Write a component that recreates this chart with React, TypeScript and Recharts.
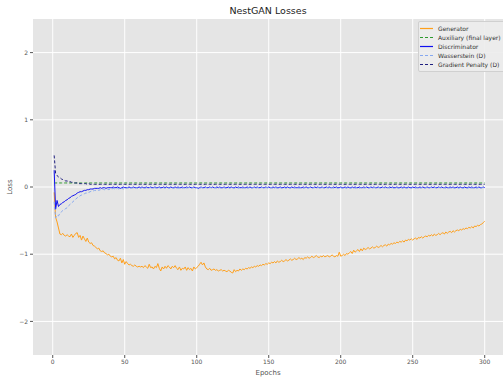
import { LineChart, Line, XAxis, YAxis, CartesianGrid } from 'recharts';

// NestGAN training losses, one value per epoch (1..300)
const generator = [
  -0.08, -0.45, -0.52, -0.61, -0.70, -0.71, -0.69, -0.72, -0.73, -0.71,
  -0.73, -0.74, -0.70, -0.75, -0.72, -0.69, -0.68, -0.75, -0.72, -0.79,
  -0.73, -0.77, -0.81, -0.76, -0.82, -0.84, -0.83, -0.87, -0.88, -0.90,
  -0.92, -0.91, -0.95, -0.96, -0.95, -0.98, -0.99, -1.01, -1.00, -1.03,
  -1.04, -1.03, -1.07, -1.05, -1.09, -1.10, -1.06, -1.13, -1.08, -1.15,
  -1.11, -1.14, -1.16, -1.15, -1.17, -1.18, -1.16, -1.18, -1.19, -1.18,
  -1.19, -1.18, -1.20, -1.17, -1.19, -1.21, -1.15, -1.20, -1.19, -1.22,
  -1.18, -1.20, -1.14, -1.21, -1.25, -1.19, -1.22, -1.18, -1.21, -1.17,
  -1.19, -1.22, -1.18, -1.20, -1.17, -1.21, -1.23, -1.19, -1.24, -1.21,
  -1.22, -1.19, -1.24, -1.20, -1.23, -1.21, -1.25, -1.19, -1.22, -1.20,
  -1.18, -1.15, -1.12, -1.16, -1.13, -1.19, -1.22, -1.23, -1.21, -1.24,
  -1.23, -1.22, -1.24, -1.23, -1.25, -1.24, -1.23, -1.25, -1.24, -1.25,
  -1.26, -1.24, -1.25, -1.27, -1.28, -1.23, -1.26, -1.24, -1.25, -1.22,
  -1.24, -1.22, -1.23, -1.21, -1.22, -1.20, -1.21, -1.19, -1.20, -1.18,
  -1.19, -1.17, -1.18, -1.16, -1.17, -1.15, -1.16, -1.14, -1.15, -1.13,
  -1.14, -1.12, -1.13, -1.11, -1.13, -1.10, -1.12, -1.11, -1.09, -1.11,
  -1.10, -1.08, -1.10, -1.09, -1.07, -1.09, -1.08, -1.06, -1.08, -1.07,
  -1.05, -1.07, -1.06, -1.08, -1.05, -1.06, -1.04, -1.06, -1.05, -1.03,
  -1.05, -1.04, -1.02, -1.04, -1.05, -1.03, -1.04, -1.02, -1.04, -1.03,
  -1.02, -1.04, -1.03, -1.01, -1.03, -1.04, -1.02, -1.03, -0.97, -1.03,
  -1.02, -1.00, -1.02, -0.99, -1.00, -0.98, -0.96, -0.99, -0.94, -0.97,
  -0.95, -0.93, -0.96, -0.92, -0.95, -0.91, -0.93, -0.92, -0.90, -0.92,
  -0.91, -0.89, -0.91, -0.90, -0.88, -0.90, -0.89, -0.87, -0.89, -0.87,
  -0.86, -0.88, -0.85, -0.86, -0.84, -0.85, -0.83, -0.84, -0.82, -0.83,
  -0.81, -0.82, -0.80, -0.82, -0.79, -0.80, -0.78, -0.79, -0.77, -0.79,
  -0.77, -0.76, -0.78, -0.75, -0.76, -0.74, -0.76, -0.74, -0.73, -0.74,
  -0.72, -0.73, -0.71, -0.73, -0.70, -0.72, -0.71, -0.69, -0.71, -0.69,
  -0.68, -0.70, -0.67, -0.69, -0.67, -0.66, -0.68, -0.65, -0.67, -0.65,
  -0.64, -0.65, -0.63, -0.64, -0.62, -0.63, -0.61, -0.62, -0.60, -0.61,
  -0.59, -0.61, -0.58, -0.59, -0.57, -0.58, -0.56, -0.55, -0.53, -0.51,
];

const auxiliary = [
  0.06, 0.06, 0.06, 0.06, 0.06, 0.06, 0.06, 0.06, 0.06, 0.06,
  0.06, 0.06, 0.06, 0.06, 0.06, 0.06, 0.06, 0.06, 0.06, 0.06,
  0.06, 0.06, 0.06, 0.06, 0.06, 0.06, 0.06, 0.06, 0.06, 0.06,
  0.06, 0.06, 0.06, 0.06, 0.06, 0.06, 0.06, 0.06, 0.06, 0.06,
  0.06, 0.06, 0.06, 0.06, 0.06, 0.06, 0.06, 0.06, 0.06, 0.06,
  0.06, 0.06, 0.06, 0.06, 0.06, 0.06, 0.06, 0.06, 0.06, 0.06,
  0.06, 0.06, 0.06, 0.06, 0.06, 0.06, 0.06, 0.06, 0.06, 0.06,
  0.06, 0.06, 0.06, 0.06, 0.06, 0.06, 0.06, 0.06, 0.06, 0.06,
  0.06, 0.06, 0.06, 0.06, 0.06, 0.06, 0.06, 0.06, 0.06, 0.06,
  0.06, 0.06, 0.06, 0.06, 0.06, 0.06, 0.06, 0.06, 0.06, 0.06,
  0.06, 0.06, 0.06, 0.06, 0.06, 0.06, 0.06, 0.06, 0.06, 0.06,
  0.06, 0.06, 0.06, 0.06, 0.06, 0.06, 0.06, 0.06, 0.06, 0.06,
  0.06, 0.06, 0.06, 0.06, 0.06, 0.06, 0.06, 0.06, 0.06, 0.06,
  0.06, 0.06, 0.06, 0.06, 0.06, 0.06, 0.06, 0.06, 0.06, 0.06,
  0.06, 0.06, 0.06, 0.06, 0.06, 0.06, 0.06, 0.06, 0.06, 0.06,
  0.06, 0.06, 0.06, 0.06, 0.06, 0.06, 0.06, 0.06, 0.06, 0.06,
  0.06, 0.06, 0.06, 0.06, 0.06, 0.06, 0.06, 0.06, 0.06, 0.06,
  0.06, 0.06, 0.06, 0.06, 0.06, 0.06, 0.06, 0.06, 0.06, 0.06,
  0.06, 0.06, 0.06, 0.06, 0.06, 0.06, 0.06, 0.06, 0.06, 0.06,
  0.06, 0.06, 0.06, 0.06, 0.06, 0.06, 0.06, 0.06, 0.06, 0.06,
  0.06, 0.06, 0.06, 0.06, 0.06, 0.06, 0.06, 0.06, 0.06, 0.06,
  0.06, 0.06, 0.06, 0.06, 0.06, 0.06, 0.06, 0.06, 0.06, 0.06,
  0.06, 0.06, 0.06, 0.06, 0.06, 0.06, 0.06, 0.06, 0.06, 0.06,
  0.06, 0.06, 0.06, 0.06, 0.06, 0.06, 0.06, 0.06, 0.06, 0.06,
  0.06, 0.06, 0.06, 0.06, 0.06, 0.06, 0.06, 0.06, 0.06, 0.06,
  0.06, 0.06, 0.06, 0.06, 0.06, 0.06, 0.06, 0.06, 0.06, 0.06,
  0.06, 0.06, 0.06, 0.06, 0.06, 0.06, 0.06, 0.06, 0.06, 0.06,
  0.06, 0.06, 0.06, 0.06, 0.06, 0.06, 0.06, 0.06, 0.06, 0.06,
  0.06, 0.06, 0.06, 0.06, 0.06, 0.06, 0.06, 0.06, 0.06, 0.06,
  0.06, 0.06, 0.06, 0.06, 0.06, 0.06, 0.06, 0.06, 0.06, 0.06,
];

const discriminator = [
  0.25, -0.33, -0.20, -0.29, -0.26, -0.25, -0.23, -0.22, -0.20, -0.19,
  -0.17, -0.16, -0.14, -0.13, -0.12, -0.11, -0.09, -0.08, -0.07, -0.07,
  -0.06, -0.05, -0.05, -0.04, -0.04, -0.03, -0.03, -0.03, -0.02, -0.02,
  -0.02, -0.02, -0.01, -0.02, -0.01, -0.01, -0.02, -0.01, -0.01, -0.01,
  -0.01, 0.00, -0.01, -0.01, 0.00, -0.01, -0.02, -0.01, 0.00, -0.01,
  -0.01, -0.01, 0.00, -0.01, -0.01, 0.00, -0.01, -0.01, -0.01, 0.00,
  -0.01, 0.00, -0.01, -0.01, 0.00, -0.01, -0.01, 0.00, -0.01, -0.01,
  0.00, -0.01, -0.01, 0.00, -0.01, -0.01, 0.00, -0.01, 0.00, -0.01,
  -0.01, 0.00, -0.01, -0.01, 0.00, -0.01, 0.00, -0.01, -0.01, 0.00,
  -0.01, -0.01, 0.00, -0.01, 0.00, -0.01, -0.01, 0.00, -0.01, -0.01,
  -0.02, -0.01, 0.00, -0.01, -0.01, 0.00, -0.01, -0.01, 0.00, -0.01,
  0.00, -0.01, -0.01, 0.00, -0.01, 0.00, -0.01, -0.01, 0.00, -0.01,
  -0.01, 0.00, -0.01, 0.00, -0.01, -0.01, 0.00, -0.01, 0.00, -0.01,
  -0.01, 0.00, -0.01, -0.01, 0.00, -0.01, 0.00, -0.01, -0.01, 0.00,
  -0.01, 0.00, -0.01, -0.01, 0.00, -0.01, -0.01, 0.00, -0.01, 0.00,
  -0.01, -0.01, 0.00, -0.01, 0.00, -0.01, -0.01, 0.00, -0.01, -0.01,
  0.00, -0.01, 0.00, -0.01, -0.01, 0.00, -0.01, 0.00, -0.01, -0.01,
  0.00, -0.01, -0.01, 0.00, -0.01, 0.00, -0.01, -0.01, 0.00, -0.01,
  -0.01, 0.00, -0.01, 0.00, -0.01, -0.01, 0.00, -0.01, -0.01, 0.00,
  -0.01, 0.00, -0.01, -0.01, 0.00, -0.01, 0.00, -0.01, -0.01, 0.00,
  -0.01, -0.01, 0.00, -0.01, 0.00, -0.01, -0.01, 0.00, -0.01, 0.00,
  -0.01, -0.01, 0.00, -0.01, -0.01, 0.00, -0.01, 0.00, -0.01, -0.01,
  0.00, -0.01, 0.00, -0.01, -0.01, 0.00, -0.01, -0.01, 0.00, -0.01,
  0.00, -0.01, -0.01, 0.00, -0.01, 0.00, -0.01, -0.01, 0.00, -0.01,
  -0.01, 0.00, -0.01, 0.00, -0.01, -0.01, 0.00, -0.01, -0.01, 0.00,
  -0.01, 0.00, -0.01, -0.01, 0.00, -0.01, 0.00, -0.01, -0.01, 0.00,
  -0.01, -0.01, 0.00, -0.01, 0.00, -0.01, -0.01, 0.00, -0.01, 0.00,
  -0.01, -0.01, 0.00, -0.01, -0.01, 0.00, -0.01, 0.00, -0.01, -0.01,
  0.00, -0.01, 0.00, -0.01, -0.01, 0.00, -0.01, -0.01, 0.00, -0.01,
  0.00, -0.01, -0.01, 0.00, -0.01, 0.00, -0.01, -0.01, 0.00, -0.01,
];

const wasserstein = [
  -0.22, -0.46, -0.42, -0.43, -0.39, -0.37, -0.35, -0.34, -0.32, -0.31,
  -0.28, -0.26, -0.24, -0.22, -0.20, -0.18, -0.16, -0.15, -0.13, -0.12,
  -0.11, -0.10, -0.09, -0.09, -0.08, -0.07, -0.06, -0.06, -0.05, -0.05,
  -0.04, -0.05, -0.04, -0.04, -0.03, -0.04, -0.03, -0.03, -0.04, -0.03,
  -0.03, -0.02, -0.03, -0.03, -0.02, -0.03, -0.02, -0.02, -0.03, -0.02,
  -0.02, -0.01, -0.02, -0.02, -0.01, -0.02, -0.02, -0.01, -0.02, -0.01,
  -0.02, -0.01, -0.01, -0.02, -0.01, -0.02, -0.01, -0.01, -0.02, -0.01,
  -0.01, -0.02, -0.01, -0.01, -0.02, -0.01, -0.01, -0.02, -0.01, -0.01,
  -0.02, -0.01, -0.01, -0.02, -0.01, -0.01, -0.02, -0.01, -0.01, -0.02,
  -0.01, -0.01, -0.02, -0.01, -0.01, -0.02, -0.01, -0.01, -0.02, -0.01,
  -0.03, -0.02, -0.01, -0.01, -0.02, -0.01, -0.01, -0.02, -0.01, -0.01,
  -0.02, -0.01, -0.01, -0.02, -0.01, -0.01, -0.02, -0.01, -0.01, -0.02,
  -0.01, -0.01, -0.02, -0.01, -0.01, -0.02, -0.01, -0.01, -0.02, -0.01,
  -0.01, -0.02, -0.01, -0.01, -0.02, -0.01, -0.01, -0.02, -0.01, -0.01,
  -0.02, -0.01, -0.01, -0.02, -0.01, -0.01, -0.02, -0.01, -0.01, -0.02,
  -0.01, -0.01, -0.02, -0.01, -0.01, -0.02, -0.01, -0.01, -0.02, -0.01,
  -0.01, -0.02, -0.01, -0.01, -0.02, -0.01, -0.01, -0.02, -0.01, -0.01,
  -0.02, -0.01, -0.01, -0.02, -0.01, -0.01, -0.02, -0.01, -0.01, -0.02,
  -0.01, -0.01, -0.02, -0.01, -0.01, -0.02, -0.01, -0.01, -0.02, -0.01,
  -0.01, -0.02, -0.01, -0.01, -0.02, -0.01, -0.01, -0.02, -0.01, -0.01,
  -0.02, -0.01, -0.01, -0.02, -0.01, -0.01, -0.02, -0.01, -0.01, -0.02,
  -0.01, -0.01, -0.02, -0.01, -0.01, -0.02, -0.01, -0.01, -0.02, -0.01,
  -0.01, -0.02, -0.01, -0.01, -0.02, -0.01, -0.01, -0.02, -0.01, -0.01,
  -0.02, -0.01, -0.01, -0.02, -0.01, -0.01, -0.02, -0.01, -0.01, -0.02,
  -0.01, -0.01, -0.02, -0.01, -0.01, -0.02, -0.01, -0.01, -0.02, -0.01,
  -0.01, -0.02, -0.01, -0.01, -0.02, -0.01, -0.01, -0.02, -0.01, -0.01,
  -0.02, -0.01, -0.01, -0.02, -0.01, -0.01, -0.02, -0.01, -0.01, -0.02,
  -0.01, -0.01, -0.02, -0.01, -0.01, -0.02, -0.01, -0.01, -0.02, -0.01,
  -0.01, -0.02, -0.01, -0.01, -0.02, -0.01, -0.01, -0.02, -0.01, -0.01,
  -0.02, -0.01, -0.01, -0.02, -0.01, -0.01, -0.02, -0.01, -0.01, -0.01,
];

const gradientPenalty = [
  0.47, 0.20, 0.17, 0.15, 0.14, 0.12, 0.11, 0.10, 0.09, 0.09,
  0.08, 0.08, 0.07, 0.07, 0.06, 0.06, 0.06, 0.05, 0.05, 0.05,
  0.05, 0.05, 0.05, 0.04, 0.05, 0.04, 0.04, 0.04, 0.04, 0.04,
  0.04, 0.04, 0.04, 0.04, 0.04, 0.04, 0.04, 0.04, 0.04, 0.04,
  0.04, 0.04, 0.04, 0.04, 0.04, 0.04, 0.04, 0.04, 0.04, 0.04,
  0.04, 0.04, 0.04, 0.04, 0.04, 0.04, 0.04, 0.04, 0.04, 0.04,
  0.04, 0.04, 0.04, 0.04, 0.04, 0.04, 0.04, 0.04, 0.04, 0.04,
  0.04, 0.04, 0.04, 0.04, 0.04, 0.04, 0.04, 0.04, 0.04, 0.04,
  0.04, 0.04, 0.04, 0.04, 0.04, 0.04, 0.04, 0.04, 0.04, 0.04,
  0.04, 0.04, 0.04, 0.04, 0.04, 0.04, 0.04, 0.04, 0.04, 0.04,
  0.04, 0.04, 0.04, 0.04, 0.04, 0.04, 0.04, 0.04, 0.04, 0.04,
  0.04, 0.04, 0.04, 0.04, 0.04, 0.04, 0.04, 0.04, 0.04, 0.04,
  0.04, 0.04, 0.04, 0.04, 0.04, 0.04, 0.04, 0.04, 0.04, 0.04,
  0.04, 0.04, 0.04, 0.04, 0.04, 0.04, 0.04, 0.04, 0.04, 0.04,
  0.04, 0.04, 0.04, 0.04, 0.04, 0.04, 0.04, 0.04, 0.04, 0.04,
  0.04, 0.04, 0.04, 0.04, 0.04, 0.04, 0.04, 0.04, 0.04, 0.04,
  0.04, 0.04, 0.04, 0.04, 0.04, 0.04, 0.04, 0.04, 0.04, 0.04,
  0.04, 0.04, 0.04, 0.04, 0.04, 0.04, 0.04, 0.04, 0.04, 0.04,
  0.04, 0.04, 0.04, 0.04, 0.04, 0.04, 0.04, 0.04, 0.04, 0.04,
  0.04, 0.04, 0.04, 0.04, 0.04, 0.04, 0.04, 0.04, 0.04, 0.04,
  0.04, 0.04, 0.04, 0.04, 0.04, 0.04, 0.04, 0.04, 0.04, 0.04,
  0.04, 0.04, 0.04, 0.04, 0.04, 0.04, 0.04, 0.04, 0.04, 0.04,
  0.04, 0.04, 0.04, 0.04, 0.04, 0.04, 0.04, 0.04, 0.04, 0.04,
  0.04, 0.04, 0.04, 0.04, 0.04, 0.04, 0.04, 0.04, 0.04, 0.04,
  0.04, 0.04, 0.04, 0.04, 0.04, 0.04, 0.04, 0.04, 0.04, 0.04,
  0.04, 0.04, 0.04, 0.04, 0.04, 0.04, 0.04, 0.04, 0.04, 0.04,
  0.04, 0.04, 0.04, 0.04, 0.04, 0.04, 0.04, 0.04, 0.04, 0.04,
  0.04, 0.04, 0.04, 0.04, 0.04, 0.04, 0.04, 0.04, 0.04, 0.04,
  0.04, 0.04, 0.04, 0.04, 0.04, 0.04, 0.04, 0.04, 0.04, 0.04,
  0.04, 0.04, 0.04, 0.04, 0.04, 0.04, 0.04, 0.04, 0.04, 0.04,
];

const xTicks = [0, 50, 100, 150, 200, 250, 300];
const yTicks = [-2, -1, 0, 1, 2];

const data = generator.map((g, i) => ({
  epoch: i + 1,
  gen: g,
  aux: auxiliary[i],
  disc: discriminator[i],
  wass: wasserstein[i],
  gp: gradientPenalty[i],
}));

const series = [
  { key: 'gen', name: 'Generator', color: '#FF9F1A', dash: undefined },
  { key: 'aux', name: 'Auxiliary (final layer)', color: '#2E9A2E', dash: '3 2' },
  { key: 'disc', name: 'Discriminator', color: '#1010F0', dash: undefined },
  { key: 'wass', name: 'Wasserstein (D)', color: '#86A8F0', dash: '3 2' },
  { key: 'gp', name: 'Gradient Penalty (D)', color: '#202080', dash: '3 2' },
];

const FONT = '"DejaVu Sans", sans-serif';
const minus = (v: number) => String(v).replace('-', '\u2212');

export default function App() {
  return (
    <div style={{ position: 'relative', width: 503, height: 379, fontFamily: FONT, background: '#fff', overflow: 'hidden' }}>
      <style>{'body{margin:0}'}</style>
      <div style={{ position: 'absolute', left: 33, width: 470, top: 5, textAlign: 'center', fontSize: 9.5, color: '#222' }}>
        NestGAN Losses
      </div>
      <LineChart width={503} height={379} data={data} margin={{ top: 19, right: 0, bottom: 0, left: 0 }}>
        <CartesianGrid fill="#E5E5E5" stroke="#FFFFFF" strokeWidth={1} horizontalValues={yTicks} verticalValues={xTicks} />
        <XAxis
          dataKey="epoch"
          type="number"
          domain={[-13.7, 312.7]}
          ticks={xTicks}
          allowDataOverflow
          height={24}
          axisLine={false}
          tickSize={3}
          tickLine={{ stroke: '#555' }}
          tick={{ fontSize: 6, fill: '#555', fontFamily: FONT }}
          label={{ value: 'Epochs', position: 'insideBottom', offset: 4, fontSize: 7, fill: '#555', fontFamily: FONT }}
        />
        <YAxis
          type="number"
          domain={[-2.5, 2.5]}
          ticks={yTicks}
          allowDataOverflow
          width={33}
          axisLine={false}
          tickSize={3}
          tickLine={{ stroke: '#555' }}
          tickFormatter={minus}
          tick={{ fontSize: 6, fill: '#555', fontFamily: FONT }}
          label={{ value: 'Loss', angle: -90, position: 'insideLeft', offset: 10, fontSize: 7, fill: '#555', fontFamily: FONT, style: { textAnchor: 'middle' } }}
        />
        {series.map((s) => (
          <Line
            key={s.key}
            dataKey={s.key}
            name={s.name}
            stroke={s.color}
            strokeWidth={1}
            strokeDasharray={s.dash}
            dot={false}
            activeDot={false}
            isAnimationActive={false}
          />
        ))}
      </LineChart>
      <div
        style={{
          position: 'absolute', top: 21, left: 418, width: 90, padding: '2px 0',
          background: 'rgba(236,236,236,0.9)', border: '1px solid #d0d0d0', borderRadius: 2,
          fontSize: 6, color: '#333', boxSizing: 'border-box', textAlign: 'left',
        }}
      >
        {series.map((s) => (
          <div key={s.key} style={{ position: 'relative', height: 9, lineHeight: '9px' }}>
            <svg width={14} height={9} style={{ position: 'absolute', left: 1, top: 0 }}>
              <line x1={0} y1={4.5} x2={13} y2={4.5} stroke={s.color} strokeWidth={1.2} strokeDasharray={s.dash} />
            </svg>
            <span style={{ position: 'absolute', left: 19, top: 0, whiteSpace: 'nowrap' }}>{s.name}</span>
          </div>
        ))}
      </div>
    </div>
  );
}
